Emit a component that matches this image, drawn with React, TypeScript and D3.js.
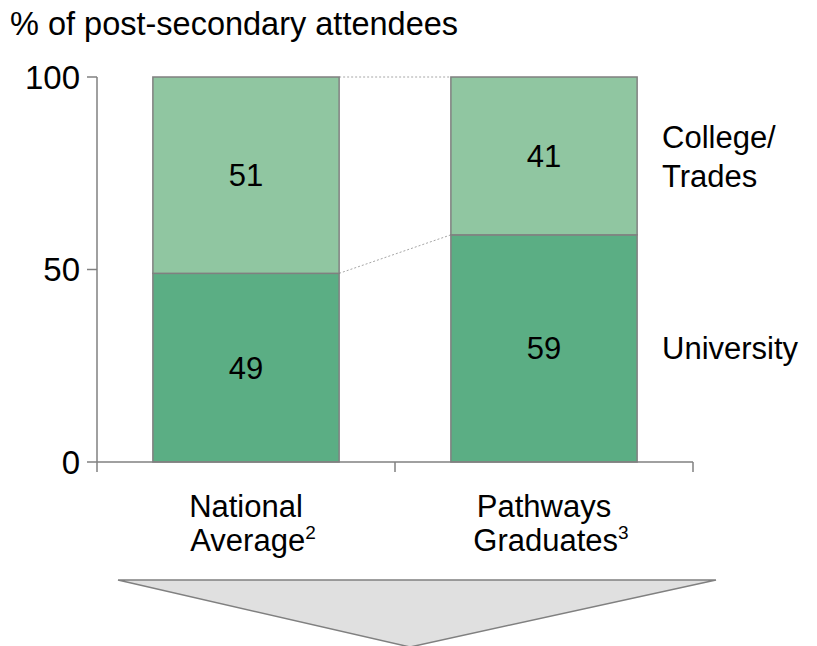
import React, { useEffect, useRef } from 'react';
import * as d3 from 'd3';

// Chart data
const categories = ['National Average', 'Pathways Graduates'];
const categoryLines = [['National', 'Average'], ['Pathways', 'Graduates']];
const categoryNotes = ['2', '3'];
const university = [49, 59];
const collegeTrades = [51, 41];
const yTicks = [0, 50, 100];
const seriesNames = ['University', 'College/Trades'];

const W = 817;
const H = 646;
const FONT = '"Liberation Sans", Arial, sans-serif';

const App: React.FC = () => {
  const svgRef = useRef<SVGSVGElement>(null);

  useEffect(() => {
    if (!svgRef.current) return;
    const svg = d3.select(svgRef.current);
    svg.selectAll('*').remove();

    const x = d3.scaleBand<string>().domain(categories).range([97, 693]).padding(0);
    const y = d3.scaleLinear().domain([0, 100]).range([462, 77]);
    const barW = x.bandwidth() * 0.625;
    const bx = (c: string) => (x(c) as number) + (x.bandwidth() - barW) / 2;

    // title
    svg.append('text')
      .attr('x', 10).attr('y', 35)
      .attr('font-size', 32.5).attr('font-family', FONT)
      .text('% of post-secondary attendees');

    // dashed connectors between bars
    const conn = svg.append('g').attr('stroke', '#a6a6a6').attr('stroke-width', 1)
      .attr('stroke-dasharray', '2,2').attr('fill', 'none');
    conn.append('line')
      .attr('x1', bx(categories[0]) + barW).attr('y1', y(100))
      .attr('x2', bx(categories[1])).attr('y2', y(100));
    conn.append('line')
      .attr('x1', bx(categories[0]) + barW).attr('y1', y(university[0]))
      .attr('x2', bx(categories[1])).attr('y2', y(university[1]));

    // stacked bars
    const rows = categories.map((c, i) => ({ c, u: university[i], t: collegeTrades[i] }));
    const g = svg.append('g');
    rows.forEach(r => {
      g.append('rect')
        .attr('x', bx(r.c)).attr('y', y(r.u)).attr('width', barW).attr('height', y(0) - y(r.u))
        .attr('fill', '#5bae84').attr('stroke', '#808080').attr('stroke-width', 1.5);
      g.append('rect')
        .attr('x', bx(r.c)).attr('y', y(r.u + r.t)).attr('width', barW).attr('height', y(r.u) - y(r.u + r.t))
        .attr('fill', '#90c6a1').attr('stroke', '#808080').attr('stroke-width', 1.5);
      const cx = bx(r.c) + barW / 2;
      g.append('text')
        .attr('x', cx).attr('y', (y(0) + y(r.u)) / 2).attr('dy', '0.35em')
        .attr('text-anchor', 'middle').attr('font-size', 31).attr('font-family', FONT)
        .text(r.u);
      g.append('text')
        .attr('x', cx).attr('y', (y(r.u) + y(r.u + r.t)) / 2).attr('dy', '0.35em')
        .attr('text-anchor', 'middle').attr('font-size', 31).attr('font-family', FONT)
        .text(r.t);
    });

    // y axis
    const axis = svg.append('g').attr('stroke', '#808080').attr('stroke-width', 1.5);
    axis.append('line').attr('x1', 97).attr('x2', 97).attr('y1', y(100)).attr('y2', y(0));
    yTicks.forEach(t => {
      axis.append('line').attr('x1', 87).attr('x2', 97).attr('y1', y(t)).attr('y2', y(t));
      svg.append('text')
        .attr('x', 80).attr('y', y(t)).attr('dy', '0.35em')
        .attr('text-anchor', 'end').attr('font-size', 33).attr('font-family', FONT)
        .text(t);
    });

    // x axis with ticks between categories
    const [x0, x1] = x.range();
    axis.append('line').attr('x1', x0).attr('x2', x1).attr('y1', y(0)).attr('y2', y(0));
    const bounds = [x0, ...categories.map(c => (x(c) as number) + x.bandwidth())];
    bounds.forEach(b => {
      axis.append('line').attr('x1', b).attr('x2', b).attr('y1', y(0)).attr('y2', y(0) + 10);
    });

    categories.forEach((c, i) => {
      const cx = (x(c) as number) + x.bandwidth() / 2;
      const t = svg.append('text')
        .attr('text-anchor', 'middle').attr('font-size', 31).attr('font-family', FONT);
      t.append('tspan').attr('x', cx).attr('y', 517).text(categoryLines[i][0]);
      const l2 = t.append('tspan').attr('x', cx + 7).attr('y', 551);
      l2.append('tspan').text(categoryLines[i][1]);
      l2.append('tspan').attr('font-size', 19).attr('dy', -12).text(categoryNotes[i]);
    });

    // series labels on the right
    const lx = 662;
    svg.append('text')
      .attr('x', lx).attr('y', (y(0) + y(university[1])) / 2).attr('dy', '0.35em')
      .attr('font-size', 31).attr('font-family', FONT)
      .text(seriesNames[0]);
    const ct = svg.append('text').attr('font-size', 31).attr('font-family', FONT);
    const midTop = (y(university[1]) + y(100)) / 2;
    seriesNames[1].split('/').forEach((part, i) => {
      ct.append('tspan').attr('x', lx).attr('y', midTop - 8 + i * 39)
        .text(i === 0 ? part + '/' : part);
    });

    // downward arrow shape
    svg.append('path')
      .attr('d', d3.line()([[118, 580], [716, 580], [410, 647]]) + 'Z')
      .attr('fill', '#e0e0e0').attr('stroke', '#808080').attr('stroke-width', 1.5);
  }, []);

  return (
    <svg ref={svgRef} width={W} height={H}
      style={{ position: 'absolute', left: 0, top: 0, background: '#fff' }} />
  );
};

export default App;
